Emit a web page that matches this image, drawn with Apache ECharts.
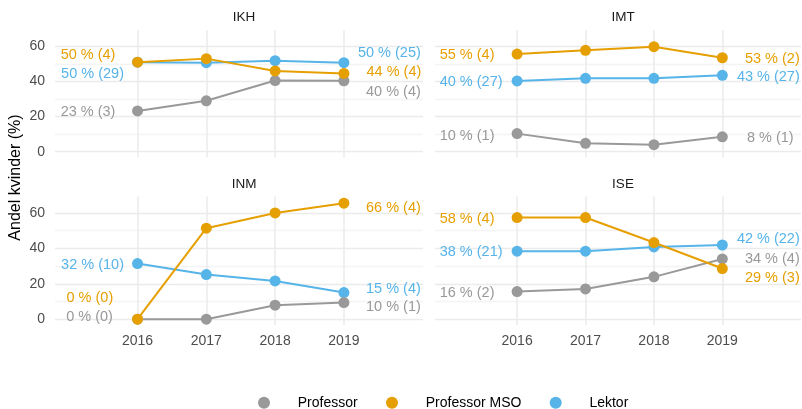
<!DOCTYPE html>
<html>
<head>
<meta charset="utf-8">
<script src="https://cdn.jsdelivr.net/npm/echarts@6/dist/echarts.min.js"></script>
<style>
  html, body { margin: 0; padding: 0; background: #fff; }
  #chart { width: 802px; height: 409px; }
</style>
</head>
<body>
<div id="chart"></div>
<script>
const years = [2016, 2017, 2018, 2019];
const panels = ['IKH', 'IMT', 'INM', 'ISE'];
const roles = ['Professor', 'Professor MSO', 'Lektor'];
const yTicks = [0, 20, 40, 60];
const yGridValues = [0, 10, 20, 30, 40, 50, 60];

// andel kvinder (%) pr. panel: IKH, IMT, INM, ISE
const professor = [
  [23.2, 29.0, 40.5, 40.4],
  [10.3, 4.8, 4.0, 8.5],
  [0, 0, 7.9, 9.4],
  [15.6, 17.1, 23.9, 34.0],
];
const professorMso = [
  [51.0, 53.0, 46.0, 44.6],
  [55.6, 57.7, 59.8, 53.5],
  [0, 51.4, 60.0, 65.5],
  [57.4, 57.4, 43.3, 28.6],
];
const lektor = [
  [51.0, 50.7, 51.8, 50.7],
  [40.3, 41.8, 41.8, 43.5],
  [31.4, 25.2, 21.6, 15.0],
  [38.4, 38.4, 40.8, 41.9],
];

// tekst ved første og sidste år
const professorLabels = [['23 % (3)', '40 % (4)'], ['10 % (1)', '8 % (1)'], ['0 % (0)', '10 % (1)'], ['16 % (2)', '34 % (4)']];
const professorMsoLabels = [['50 % (4)', '44 % (4)'], ['55 % (4)', '53 % (2)'], ['0 % (0)', '66 % (4)'], ['58 % (4)', '29 % (3)']];
const lektorLabels = [['50 % (29)', '50 % (25)'], ['40 % (27)', '43 % (27)'], ['32 % (10)', '15 % (4)'], ['38 % (21)', '42 % (22)']];

// placering af teksterne (forskydning fra punktet, px)
const professorOffsets = [[[-49.5, 1], [49.5, 11]], [[-50, 2], [48, 1]], [[-48, -2.5], [49.5, 4.7]], [[-50, 1.5], [50, 0]]];
const professorMsoOffsets = [[[-49.5, -7], [50, -1]], [[-50, 1], [50, 1]], [[-47.7, -21.5], [49.5, 5]], [[-50, 1], [50, 9.7]]];
const lektorOffsets = [[[-45, 12], [45.5, -10]], [[-46, 1], [46, 2]], [[-45, 1], [49.5, -3.7]], [[-46, 1], [46, -5.7]]];

const FONT = 'Liberation Sans, Arial, sans-serif';
const colors = { 'Professor': '#999999', 'Professor MSO': '#E69F00', 'Lektor': '#56B4E9' };

const grids = [
  { left: 55, top: 30, width: 368, height: 127.5 },
  { left: 435, top: 30, width: 366, height: 127.5 },
  { left: 55, top: 196.5, width: 368, height: 128.5 },
  { left: 435, top: 196.5, width: 366, height: 128.5 },
];

const xAxes = grids.map((g, i) => ({
  type: 'value',
  gridIndex: i,
  min: 2014.8,
  max: 2020.15,
  axisLine: { show: false },
  axisTick: { show: false, customValues: years },
  axisLabel: {
    show: i >= 2,
    customValues: years,
    color: '#4D4D4D',
    fontSize: 14,
    fontFamily: FONT,
    margin: 9,
    formatter: v => String(v),
  },
  splitLine: { show: true, lineStyle: { color: '#EBEBEB', width: 1.5 } },
}));

const yAxes = grids.map((g, i) => ({
  type: 'value',
  gridIndex: i,
  min: -3.3,
  max: 69.3,
  axisLine: { show: false },
  axisTick: { show: false, customValues: yGridValues },
  axisLabel: {
    show: i % 2 === 0,
    customValues: yTicks,
    color: '#4D4D4D',
    fontSize: 14,
    fontFamily: FONT,
    margin: 10,
  },
  splitLine: { show: true, lineStyle: { color: ['#EBEBEB', '#F4F4F4'], width: 1.3 } },
}));

function buildSeries(name, values, labels, offsets, z) {
  return panels.map((p, i) => ({
    name: name,
    type: 'line',
    xAxisIndex: i,
    yAxisIndex: i,
    z: z,
    symbol: 'circle',
    symbolSize: 11,
    showAllSymbol: true,
    lineStyle: { width: 2, color: colors[name] },
    itemStyle: { color: colors[name] },
    emphasis: { disabled: true },
    label: { show: false },
    data: years.map((yr, k) => {
      const item = { value: [yr, values[i][k]] };
      const end = k === 0 ? 0 : (k === years.length - 1 ? 1 : -1);
      if (end >= 0) {
        item.label = {
          show: true,
          formatter: labels[i][end],
          position: 'inside',
          align: 'center',
          verticalAlign: 'middle',
          offset: offsets[i][end],
          color: colors[name],
          fontSize: 14.5,
          fontFamily: FONT,
        };
      }
      return item;
    }),
  }));
}

const series = [].concat(
  buildSeries('Lektor', lektor, lektorLabels, lektorOffsets, 2),
  buildSeries('Professor', professor, professorLabels, professorOffsets, 3),
  buildSeries('Professor MSO', professorMso, professorMsoLabels, professorMsoOffsets, 4)
);

const titles = panels.map((p, i) => ({
  text: p,
  left: grids[i].left + grids[i].width / 2,
  top: i < 2 ? 5 : 172,
  textAlign: 'center',
  textStyle: { color: '#1A1A1A', fontSize: 13.5, fontWeight: 'normal', fontFamily: FONT },
}));

// én legende pr. rolle, så afstanden mellem prik og tekst kan styres
const legendLefts = [258, 386, 549.7];
const legends = roles.map((r, i) => ({
  data: [r],
  icon: 'circle',
  itemWidth: 12,
  itemHeight: 12,
  padding: 0,
  left: legendLefts[i],
  top: 395.7,
  selectedMode: false,
  textStyle: { color: '#000', fontSize: 14, fontFamily: FONT, padding: [0, 0, 0, 22.7] },
}));

const chart = echarts.init(document.getElementById('chart'));
chart.setOption({
  animation: false,
  backgroundColor: '#fff',
  title: titles,
  grid: grids,
  xAxis: xAxes,
  yAxis: yAxes,
  legend: legends,
  graphic: [{
    type: 'text',
    x: 16,
    y: 177.5,
    rotation: Math.PI / 2,
    style: {
      text: 'Andel kvinder (%)',
      fill: '#000',
      fontSize: 16,
      fontFamily: FONT,
      align: 'center',
      verticalAlign: 'middle',
      textAlign: 'center',
      textVerticalAlign: 'middle',
    },
  }],
  series: series,
});
</script>
</body>
</html>
